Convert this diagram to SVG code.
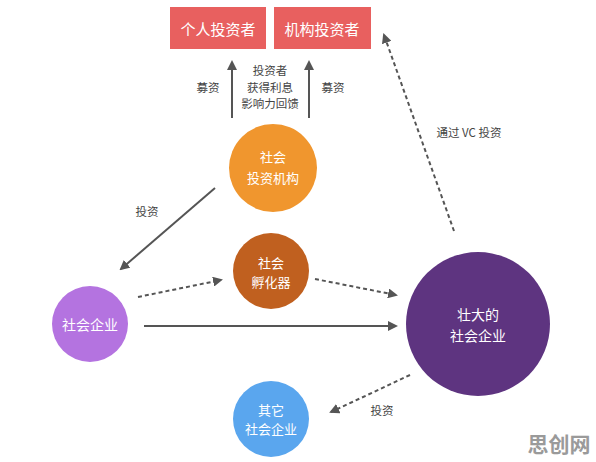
<svg xmlns="http://www.w3.org/2000/svg" width="596" height="462" viewBox="0 0 596 462">
<style>
text{font-family:"Noto Sans CJK SC","Noto Sans",sans-serif;text-anchor:middle;dominant-baseline:central}
.w{fill:#fff;font-size:13px}
.lbl{fill:#444;font-size:11.5px}
.ln{stroke:#555;stroke-width:2;fill:none}
.d{stroke-dasharray:4,3}
</style>
<defs>
<marker id="ah" viewBox="0 0 10 10" refX="8" refY="5" markerWidth="5" markerHeight="5" orient="auto" markerUnits="strokeWidth">
<path d="M0,0L10,5L0,10z" fill="#555"/>
</marker>
</defs>
<rect width="596" height="462" fill="#fff"/>
<g id="individual">
<rect x="170" y="7" width="96" height="42" fill="#E8605F"/>
<text class="w" x="218" y="28" style="font-size:15px">个人投资者</text>
</g>
<g id="institution">
<rect x="274" y="7" width="97" height="42" fill="#E8605F"/>
<text class="w" x="322" y="28" style="font-size:15px">机构投资者</text>
</g>
<g id="social-invest">
<circle cx="273" cy="168" r="44" fill="#F0962E"/>
<text class="w" x="273" y="156">社会</text>
<text class="w" x="273" y="177">投资机构</text>
</g>
<g id="incubator">
<circle cx="271" cy="271" r="38" fill="#C0601F"/>
<text class="w" x="271" y="262">社会</text>
<text class="w" x="271" y="281">孵化器</text>
</g>
<g id="social-enterprise">
<circle cx="90" cy="324" r="38" fill="#B473E0"/>
<text class="w" x="90" y="324" style="font-size:14px">社会企业</text>
</g>
<g id="grown">
<circle cx="478" cy="324" r="72" fill="#5E3480"/>
<text class="w" x="478" y="314" style="font-size:14px">壮大的</text>
<text class="w" x="478" y="335" style="font-size:14px">社会企业</text>
</g>
<g id="other">
<circle cx="271" cy="419" r="38" fill="#5AA6EE"/>
<text class="w" x="271" y="409">其它</text>
<text class="w" x="271" y="428">社会企业</text>
</g>
<g id="connectors">
<line class="ln" x1="232" y1="118" x2="232" y2="62" marker-end="url(#ah)"/>
<line class="ln" x1="309" y1="118" x2="309" y2="62" marker-end="url(#ah)"/>
<line class="ln" x1="215" y1="188" x2="121" y2="269" marker-end="url(#ah)"/>
<line class="ln d" x1="138" y1="297" x2="221" y2="280" marker-end="url(#ah)"/>
<line class="ln" x1="144" y1="326" x2="396" y2="326" marker-end="url(#ah)"/>
<line class="ln d" x1="315" y1="279" x2="396" y2="295" marker-end="url(#ah)"/>
<line class="ln d" x1="454" y1="231" x2="384" y2="35" marker-end="url(#ah)"/>
<line class="ln d" x1="410" y1="375" x2="331" y2="412" marker-end="url(#ah)"/>
</g>
<g id="labels">
<text class="lbl" x="208" y="87">募资</text>
<text class="lbl" x="333" y="87">募资</text>
<text class="lbl" x="270" y="70">投资者</text>
<text class="lbl" x="270" y="87">获得利息</text>
<text class="lbl" x="270" y="103">影响力回馈</text>
<text class="lbl" x="147" y="211">投资</text>
<text class="lbl" x="469" y="132">通过 VC 投资</text>
<text class="lbl" x="382" y="410">投资</text>
<text x="559" y="443" style="font-size:21px;font-weight:bold;fill:#9a9a9a">思创网</text>
</g>
</svg>
